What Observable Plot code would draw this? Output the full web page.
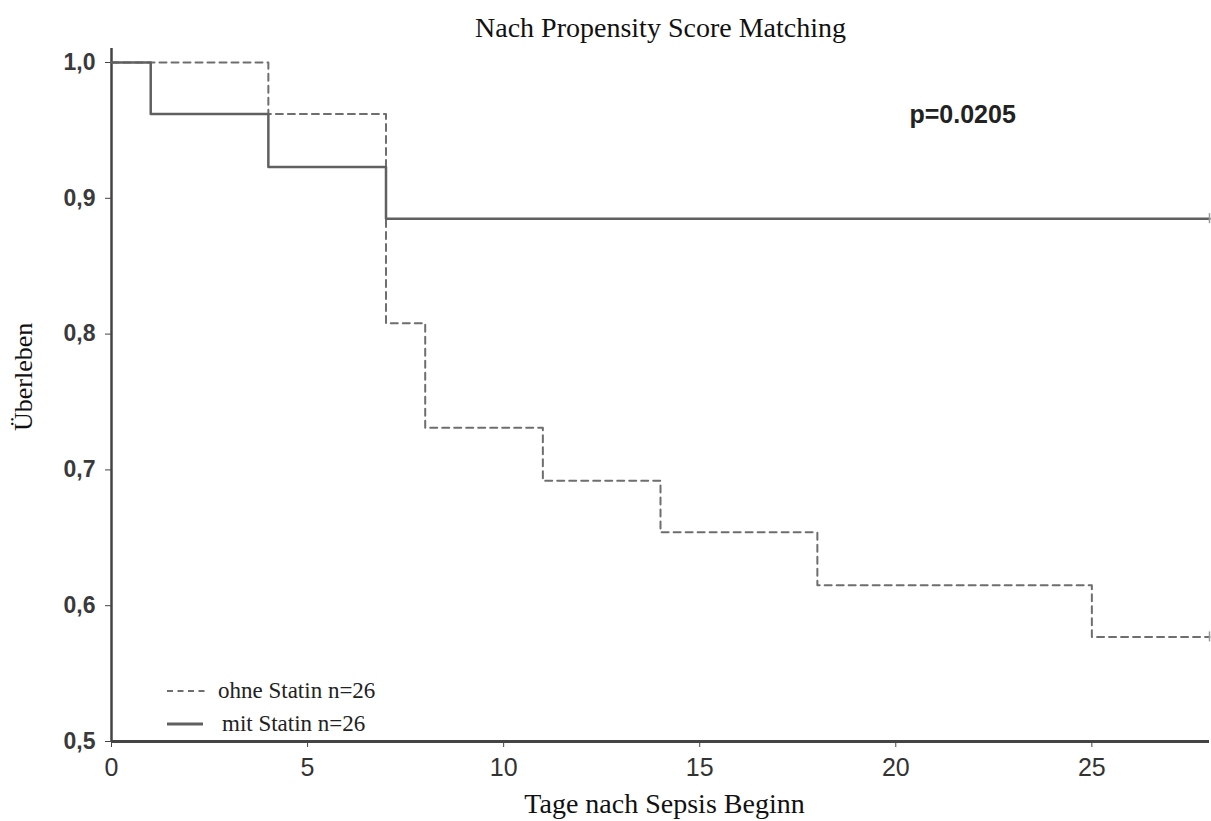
<!DOCTYPE html>
<html>
<head>
<meta charset="utf-8">
<script src="https://cdn.jsdelivr.net/npm/d3@7"></script>
<script src="https://cdn.jsdelivr.net/npm/@observablehq/plot@0.6"></script>
<style>
  html, body { margin: 0; padding: 0; background: #fff; }
  #wrap { position: relative; width: 1211px; height: 821px; }
  #legend { position: absolute; left: 167px; top: 674px; font-family: "Liberation Serif", serif; font-size: 23px; color: #222; }
  #legend .row { display: flex; align-items: center; height: 33px; white-space: nowrap; }
</style>
</head>
<body>
<div id="wrap"></div>
<script>
// Data (Kaplan-Meier steps)
const daysOhne = [0, 4, 7, 8, 11, 14, 18, 25, 28];
const survOhne = [1.0, 0.962, 0.808, 0.731, 0.692, 0.654, 0.615, 0.577, 0.577];
const daysMit  = [0, 1, 4, 7, 28];
const survMit  = [1.0, 0.962, 0.923, 0.885, 0.885];
const censorDay = [28];
const xTicks = [0, 5, 10, 15, 20, 25];
const yTicks = [0.5, 0.6, 0.7, 0.8, 0.9, 1.0];
const groupLabels = ["ohne Statin n=26", "mit Statin n=26"];
const titleText = "Nach Propensity Score Matching";
const pText = "p=0.0205";
const xLabel = "Tage nach Sepsis Beginn";
const yLabel = "Überleben";

const ohne = daysOhne.map((d, i) => ({day: d, s: survOhne[i]}));
const mit = daysMit.map((d, i) => ({day: d, s: survMit[i]}));
const censors = [
  {day: censorDay[0], s: survOhne[survOhne.length - 1]},
  {day: censorDay[0], s: survMit[survMit.length - 1]}
];

const commaFmt = v => d3.format(".1f")(v).replace(".", ",");
const serif = "Liberation Serif, Times New Roman, serif";

const chart = Plot.plot({
  width: 1211,
  height: 821,
  marginLeft: 111,
  marginRight: 2,
  marginTop: 62,
  marginBottom: 80,
  style: {background: "#fff", fontFamily: "Liberation Sans, Arial, sans-serif"},
  x: {domain: [0, 28]},
  y: {domain: [0.5, 1.0]},
  marks: [
    Plot.axisX({
      ticks: xTicks, tickSize: 6, tickPadding: 11, stroke: "#444",
      fill: "#333", fontSize: 25, label: null
    }),
    Plot.axisY({
      ticks: yTicks, tickSize: 6, tickPadding: 10, stroke: "#444",
      fill: "#3a3a3a", fontSize: 23, fontWeight: "bold", tickFormat: commaFmt, label: null
    }),
    Plot.ruleY([0.5], {stroke: "#444", strokeWidth: 3}),
    Plot.ruleX([0], {y1: 1.0, y2: 0.5, stroke: "#444", strokeWidth: 2.5, insetTop: -14}),
    Plot.line(ohne, {x: "day", y: "s", curve: "step-after", stroke: "#6e6e6e", strokeWidth: 2, strokeDasharray: "7,5"}),
    Plot.line(mit, {x: "day", y: "s", curve: "step-after", stroke: "#606060", strokeWidth: 2.5}),
    Plot.ruleX(censors, {x: "day", y1: "s", y2: "s", insetTop: -5, insetBottom: -5, stroke: "#999", strokeWidth: 1.5}),
    Plot.text([titleText], {frameAnchor: "top", lineAnchor: "middle", dy: -34, fontFamily: serif, fontSize: 28, fill: "#111"}),
    Plot.text([pText], {frameAnchor: "top-left", lineAnchor: "middle", dx: 798, dy: 52, textAnchor: "start", fontSize: 25, fontWeight: "bold", fill: "#222"}),
    Plot.text([xLabel], {frameAnchor: "bottom", lineAnchor: "middle", dx: 4, dy: 63, fontFamily: serif, fontSize: 28, fill: "#111"}),
    Plot.text([yLabel], {frameAnchor: "left", lineAnchor: "middle", dx: -88, dy: 29, rotate: -90, fontFamily: serif, fontSize: 26, fill: "#111"})
  ]
});

const wrap = document.getElementById("wrap");
wrap.appendChild(chart);

const legend = document.createElement("div");
legend.id = "legend";
const styles = [
  {dash: "6,4.5", stroke: "#6e6e6e", w: 2, len: 40, gap: 11},
  {dash: null, stroke: "#606060", w: 3, len: 36, gap: 19}
];
groupLabels.forEach((lab, i) => {
  const row = document.createElement("div");
  row.className = "row";
  const st = styles[i];
  row.innerHTML = `<svg width="${st.len}" height="10" style="margin-right:${st.gap}px"><line x1="0" x2="${st.len}" y1="5" y2="5" stroke="${st.stroke}" stroke-width="${st.w}" ${st.dash ? `stroke-dasharray="${st.dash}"` : ""}/></svg><span>${lab}</span>`;
  legend.appendChild(row);
});
wrap.appendChild(legend);
</script>
</body>
</html>
